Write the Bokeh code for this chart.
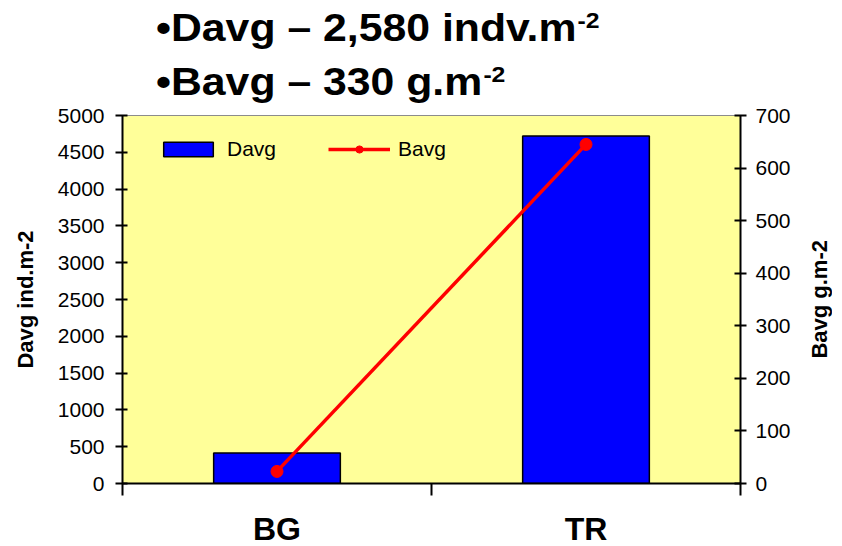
from bokeh.plotting import figure
from bokeh.layouts import column, row
from bokeh.models import Range1d, LinearAxis, FixedTicker, Legend, LegendItem, Div
from bokeh.embed import file_html
from bokeh.resources import INLINE

# Average density and biomass per site
categories = ["BG", "TR"]
davg = [415, 4720]      # Davg, ind.m-2
bavg = [23, 645]        # Bavg, g.m-2
density_ticks = list(range(0, 5001, 500))
biomass_ticks = list(range(0, 701, 100))

# overall averages quoted in the headline
headline = [("Davg", "2,580", "indv.m"), ("Bavg", "330", "g.m")]

FONT = "Liberation Sans"
FONT_CSS = f"font-family:'{FONT}',Arial,sans-serif;color:black;"

# category centres and boundaries on a numeric axis
centres = [i + 0.5 for i in range(len(categories))]
bounds = list(range(len(categories) + 1))

HEADER_H = 90
SIDE_W = 38
FRAME_TOP, FRAME_LEFT, FRAME_W, FRAME_H = 115, 122, 618, 368

# ---- headline (two bullet lines with superscript units) ----
sup_style = ("font-size:22px;vertical-align:baseline;position:relative;top:-13px;"
             "margin-left:1px")
lines = "".join(
    f'<div>\u2022{name} \u2013 {val} {unit}<span style="{sup_style}">-2</span></div>'
    for name, val, unit in headline
)
header = Div(
    text=(f'<div style="{FONT_CSS}font-weight:bold;font-size:38px;line-height:48px;'
          f'padding-top:4px;padding-left:156px;white-space:nowrap">'
          f'<div style="transform:scaleX(1.125);transform-origin:0 0">{lines}</div></div>'),
    width=842, height=HEADER_H, margin=(0, 0, 0, 0),
    styles={"overflow": "visible"},
)

# ---- chart ----
p = figure(
    frame_width=FRAME_W, frame_height=FRAME_H,
    x_range=Range1d(0, len(categories)), y_range=Range1d(0, 5000),
    x_axis_location=None, y_axis_location=None,
    min_border_left=FRAME_LEFT, min_border_right=842 - SIDE_W - FRAME_LEFT - FRAME_W,
    min_border_top=FRAME_TOP - HEADER_H, min_border_bottom=60,
    output_backend="svg", toolbar_location=None, margin=(0, 0, 0, 0),
)
p.extra_y_ranges = {"bavg": Range1d(0, 700)}
p.background_fill_color = "#FFFF99"
# transparent border so the headline's descenders stay visible above the frame
p.border_fill_color = None
p.outline_line_color = "#8C8C8C"
p.outline_line_width = 1
p.grid.visible = False

# x axis: labels at the centres, tick marks at the category boundaries
xaxis = LinearAxis(
    ticker=FixedTicker(ticks=centres, minor_ticks=bounds),
    major_label_overrides={c: lab for c, lab in zip(centres, categories)},
    axis_line_color="black", axis_line_width=2,
    major_tick_line_color=None, major_tick_in=0, major_tick_out=0,
    minor_tick_line_color="black", minor_tick_line_width=2,
    minor_tick_in=0, minor_tick_out=12,
    major_label_standoff=15,
    major_label_text_font=FONT, major_label_text_font_size="32px",
    major_label_text_font_style="bold", major_label_text_color="black",
)
p.add_layout(xaxis, "below")

yaxis = LinearAxis(
    ticker=FixedTicker(ticks=density_ticks),
    axis_label="Davg ind.m-2",
    axis_label_text_font=FONT, axis_label_text_font_size="22px",
    axis_label_text_font_style="bold", axis_label_text_color="black",
    axis_label_standoff=17,
    axis_line_color="black", axis_line_width=2,
    major_tick_line_color="black", major_tick_line_width=2,
    major_tick_in=5, major_tick_out=7,
    major_label_standoff=11,
    major_label_text_font=FONT, major_label_text_font_size="21px",
    major_label_text_color="black",
)
p.add_layout(yaxis, "left")

raxis = LinearAxis(
    y_range_name="bavg",
    ticker=FixedTicker(ticks=biomass_ticks),
    axis_line_color="black", axis_line_width=2,
    major_tick_line_color="black", major_tick_line_width=2,
    major_tick_in=6, major_tick_out=6,
    major_label_standoff=9,
    major_label_text_font=FONT, major_label_text_font_size="21px",
    major_label_text_color="black",
)
p.add_layout(raxis, "right")

bars = p.vbar(x=centres, top=davg, width=0.41, bottom=0,
              fill_color="#0000FF", line_color="black", line_width=1.5)
line = p.line(x=centres, y=bavg, y_range_name="bavg",
              line_color="#FF0000", line_width=3.5)
dots = p.scatter(x=centres, y=bavg, y_range_name="bavg", size=12,
                 fill_color="#FF0000", line_color="#FF0000")

legend = Legend(
    items=[LegendItem(label="Davg", renderers=[bars]),
           LegendItem(label="Bavg", renderers=[line, dots])],
    orientation="horizontal", location=(35, 322),
    margin=0, padding=0, spacing=52,
    glyph_width=62, glyph_height=18, label_standoff=8,
    label_text_font=FONT, label_text_font_size="21px", label_text_color="black",
    border_line_alpha=0, background_fill_alpha=0,
)
p.add_layout(legend, "center")

# ---- right-hand axis title, reading bottom to top ----
frame_mid = FRAME_TOP - HEADER_H + FRAME_H // 2
side = Div(
    text=(f'<div style="height:{2 * frame_mid}px;display:flex;align-items:center;'
          f'padding-left:3px">'
          f'<div style="{FONT_CSS}font-weight:bold;font-size:22px;line-height:25px;'
          f'writing-mode:vertical-rl;transform:rotate(180deg);white-space:nowrap">'
          f'Bavg g.m-2</div></div>'),
    width=SIDE_W, height=546 - HEADER_H, margin=(0, 0, 0, 0),
)

layout = column(header, row(p, side, spacing=0, margin=(0, 0, 0, 0)),
                spacing=0, margin=(0, 0, 0, 0))

open("out.html", "w").write(file_html(layout, INLINE))
